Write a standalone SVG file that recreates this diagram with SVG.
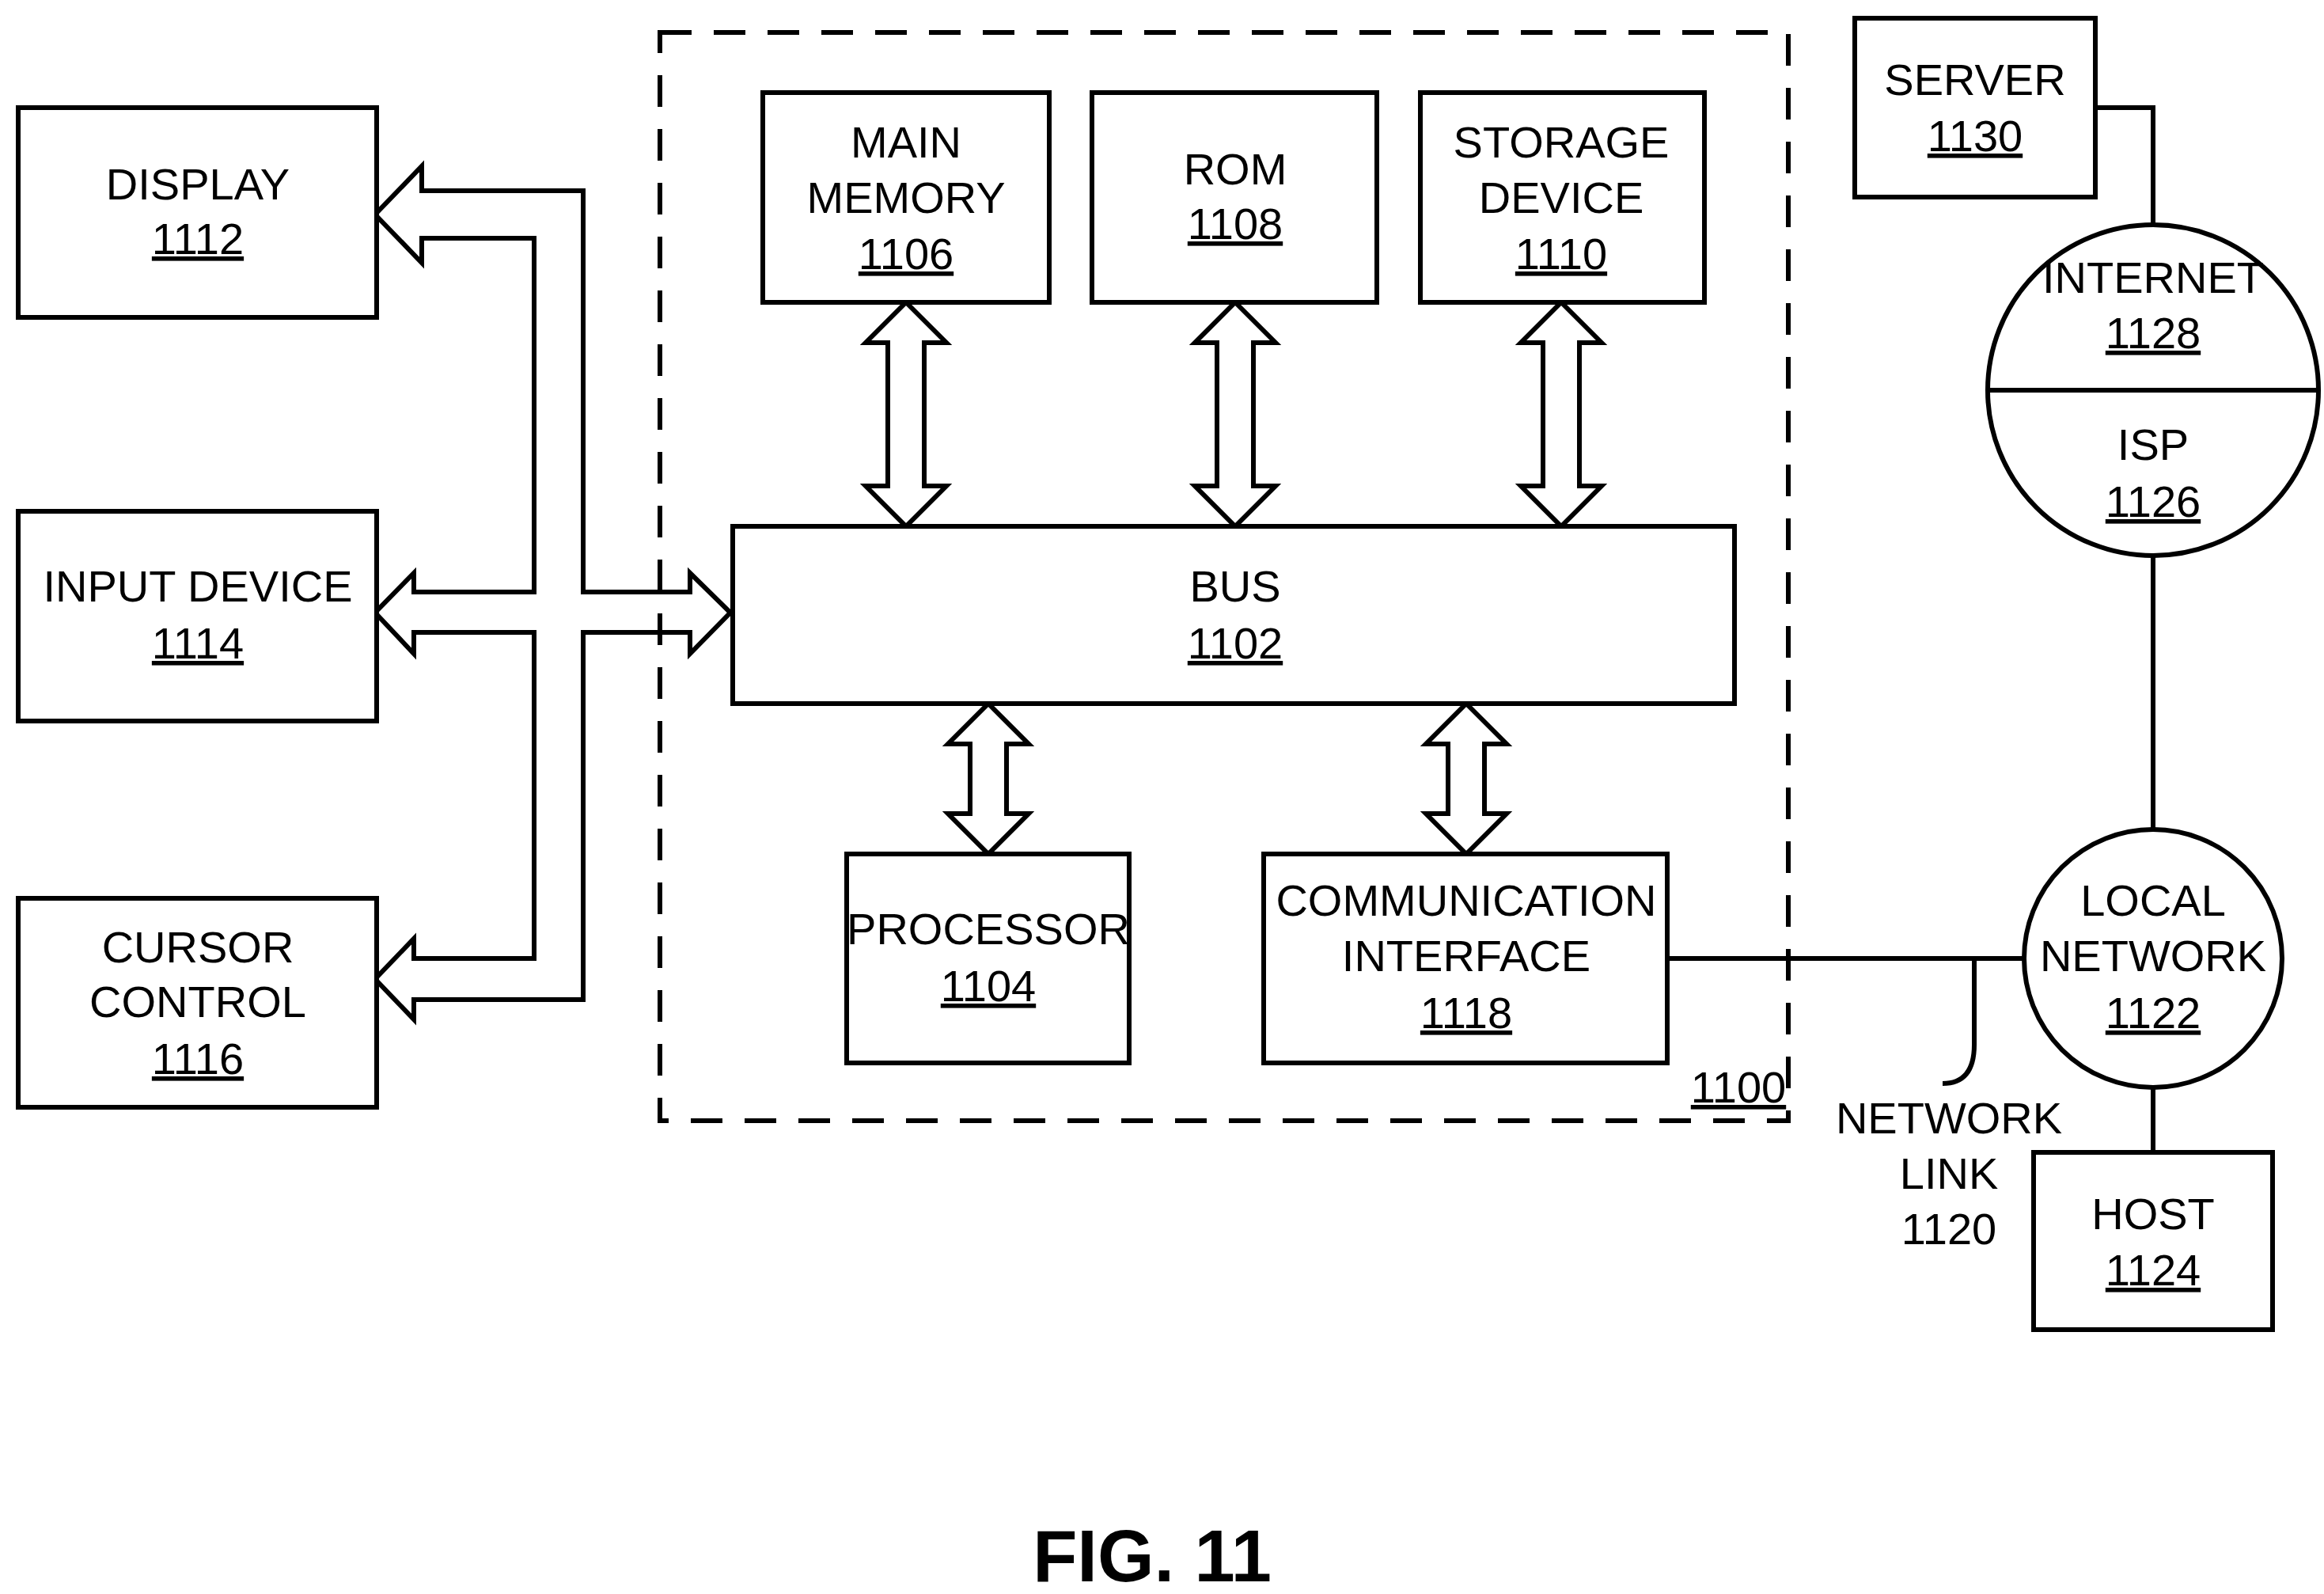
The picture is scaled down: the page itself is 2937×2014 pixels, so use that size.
<svg xmlns="http://www.w3.org/2000/svg" width="2937" height="2014" viewBox="0 0 2937 2014">
<style>
.b{fill:#fff;stroke:#000;stroke-width:6}
.l{fill:none;stroke:#000;stroke-width:6}
text{font-family:"Liberation Sans Narrow","Liberation Sans",Arial,sans-serif;font-size:56px;text-anchor:middle;fill:#000}
.u{text-decoration:underline}
</style>
<rect width="2937" height="2014" fill="#fff"/>
<g id="system1100"><rect x="834" y="41" width="1426" height="1375" fill="none" stroke="#000" stroke-width="6" stroke-dasharray="40,28"/><text x="2197" y="1393" class="u">1100</text></g>
<g id="connectors">
<path class="l" d="M474,271 L533,210 L533,241 L737,241 L737,748 L872,748 L872,724 L923,774 L872,826 L872,799 L737,799 L737,1263 L523,1263 L523,1288 L474,1237 L523,1186 L523,1211 L675,1211 L675,799 L523,799 L523,826 L474,774 L523,724 L523,748 L675,748 L675,301 L533,301 L533,332 Z"/>
<path class="l" d="M1145,382 l51,51 h-28 v181 h28 l-51,51 l-51,-51 h28 v-181 h-28 Z"/>
<path class="l" d="M1561,382 l51,51 h-28 v181 h28 l-51,51 l-51,-51 h28 v-181 h-28 Z"/>
<path class="l" d="M1973,382 l51,51 h-28 v181 h28 l-51,51 l-51,-51 h28 v-181 h-28 Z"/>
<path class="l" d="M1249,889 l51,51 h-28 v88 h28 l-51,51 l-51,-51 h28 v-88 h-28 Z"/>
<path class="l" d="M1853,889 l51,51 h-28 v88 h28 l-51,51 l-51,-51 h28 v-88 h-28 Z"/>
<path class="l" d="M2107,1211 H2558"/>
<path class="l" d="M2648,136 H2721 V284"/>
<path class="l" d="M2721,702 V1048"/>
<path class="l" d="M2721,1374 V1456"/>
<path class="l" d="M2495,1211 V1320 Q2495,1369 2455,1369"/>
</g>
<g id="display"><rect class="b" x="23" y="136" width="453" height="265"/><text x="250" y="252">DISPLAY</text><text x="250" y="321" class="u">1112</text></g>
<g id="input"><rect class="b" x="23" y="646" width="453" height="265"/><text x="250" y="760">INPUT DEVICE</text><text x="250" y="832" class="u">1114</text></g>
<g id="cursor"><rect class="b" x="23" y="1135" width="453" height="264"/><text x="250" y="1216">CURSOR</text><text x="250" y="1285">CONTROL</text><text x="250" y="1357" class="u">1116</text></g>
<g id="mainmem"><rect class="b" x="964" y="117" width="362" height="265"/><text x="1145" y="199">MAIN</text><text x="1145" y="269">MEMORY</text><text x="1145" y="340" class="u">1106</text></g>
<g id="rom"><rect class="b" x="1380" y="117" width="360" height="265"/><text x="1561" y="233">ROM</text><text x="1561" y="302" class="u">1108</text></g>
<g id="storage"><rect class="b" x="1795" y="117" width="359" height="265"/><text x="1973" y="199">STORAGE</text><text x="1973" y="269">DEVICE</text><text x="1973" y="340" class="u">1110</text></g>
<g id="bus"><rect class="b" x="926" y="665" width="1266" height="224"/><text x="1561" y="760">BUS</text><text x="1561" y="832" class="u">1102</text></g>
<g id="processor"><rect class="b" x="1070" y="1079" width="357" height="264"/><text x="1249" y="1193">PROCESSOR</text><text x="1249" y="1265" class="u">1104</text></g>
<g id="comm"><rect class="b" x="1597" y="1079" width="510" height="264"/><text x="1853" y="1157">COMMUNICATION</text><text x="1853" y="1227">INTERFACE</text><text x="1853" y="1299" class="u">1118</text></g>
<g id="server"><rect class="b" x="2344" y="23" width="304" height="226"/><text x="2496" y="120">SERVER</text><text x="2496" y="191" class="u">1130</text></g>
<g id="internet"><circle class="b" cx="2721" cy="493" r="209"/><path class="l" d="M2512,493 H2930"/><text x="2721" y="370">INTERNET</text><text x="2721" y="440" class="u">1128</text><text x="2721" y="581">ISP</text><text x="2721" y="653" class="u">1126</text></g>
<g id="local"><circle class="b" cx="2721" cy="1211" r="163"/><text x="2721" y="1157">LOCAL</text><text x="2721" y="1227">NETWORK</text><text x="2721" y="1299" class="u">1122</text></g>
<g id="host"><rect class="b" x="2570" y="1456" width="302" height="224"/><text x="2721" y="1553">HOST</text><text x="2721" y="1624" class="u">1124</text></g>
<g id="netlink"><text x="2463" y="1432">NETWORK</text><text x="2463" y="1502">LINK</text><text x="2463" y="1572">1120</text></g>
<text x="1456" y="1998" style="font-family:'Liberation Sans',Arial,sans-serif;font-weight:bold;font-size:92px">FIG. 11</text>
</svg>
